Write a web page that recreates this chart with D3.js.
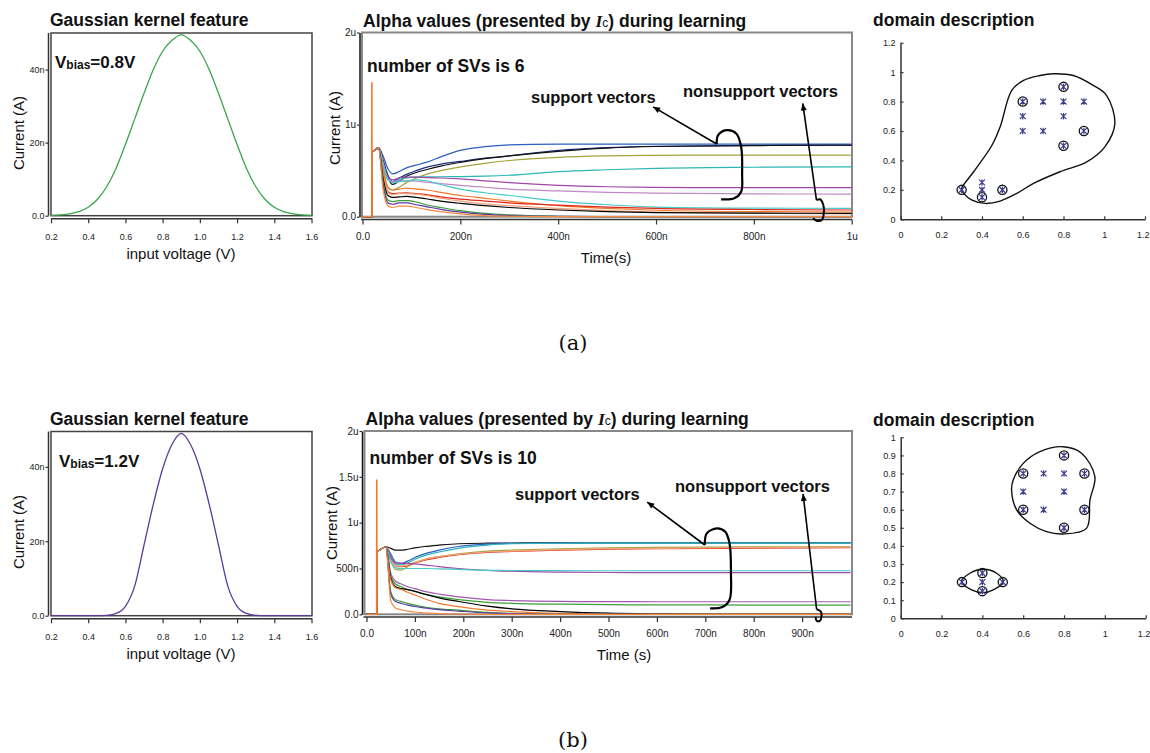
<!DOCTYPE html>
<html>
<head>
<meta charset="utf-8">
<script src="https://cdnjs.cloudflare.com/ajax/libs/d3/7.8.5/d3.min.js"></script>
<style>
    body{margin:0;background:#fff;}
    text{font-family:"Liberation Sans",Arial,sans-serif;fill:#111;}
    .ttl{font-weight:bold;font-size:17.5px;}
    .note{font-weight:bold;font-size:16.5px;}
    .atitle{font-size:15px;}
</style>
</head>
<body>
<script>
var W=1150,H=753;
var svg=d3.select('body').append('svg').attr('width',W).attr('height',H);

// ---- kernel curves (input voltage V, current nA)
var kernelVolt=[0.2,0.25,0.3,0.35,0.4,0.45,0.5,0.55,0.6,0.65,0.7,0.75,0.8,0.85,0.9,
                0.95,1.0,1.05,1.1,1.15,1.2,1.25,1.3,1.35,1.4,1.45,1.5,1.55,1.6];
var kernelCurA=[0.1,0.2,0.5,1.1,2.3,4.5,8,13,19.5,26.5,33.5,40,45,48,49.5,
                48,45,40,33.5,26.5,19.5,13,8,4.5,2.3,1.1,0.5,0.2,0.1];
var kernelCurB=[0,0,0,0,0,0,0.1,0.6,2.5,8,19,30,39.5,46,49,
                46,39.5,30,19,8,2.5,0.6,0.1,0,0,0,0,0,0];
var kernelXTicks=[0.2,0.4,0.6,0.8,1.0,1.2,1.4,1.6];
var kernelYTicks=[0,20,40];

// ---- alpha values during learning (time ns, current uA)
var alphaTimeA=[0,19,20,24,33,42,52,62,75,90,110,130,160,200,250,300,400,500,600,800,1000];
var alphaSeriesA=[
    [0,0,0.70,0.72,0.75,0.66,0.52,0.465,0.49,0.53,0.56,0.59,0.65,0.72,0.76,0.78,0.788,0.789,0.789,0.789,0.789],
    [0,0,0.70,0.72,0.75,0.62,0.45,0.38,0.42,0.46,0.50,0.535,0.57,0.60,0.635,0.66,0.72,0.75,0.765,0.775,0.778],
    [0,0,0.70,0.72,0.75,0.60,0.42,0.35,0.39,0.44,0.48,0.51,0.55,0.59,0.63,0.66,0.71,0.745,0.762,0.772,0.776],
    [0,0,0.70,0.72,0.75,0.55,0.31,0.29,0.32,0.37,0.42,0.46,0.50,0.54,0.58,0.61,0.645,0.66,0.666,0.669,0.669],
    [0,0,0.70,0.72,0.75,0.58,0.40,0.38,0.40,0.42,0.43,0.432,0.434,0.435,0.44,0.45,0.49,0.51,0.525,0.537,0.542],
    [0,0,0.70,0.72,0.75,0.60,0.43,0.40,0.42,0.43,0.43,0.425,0.42,0.41,0.39,0.37,0.34,0.325,0.318,0.315,0.315],
    [0,0,0.70,0.72,0.75,0.58,0.41,0.38,0.39,0.39,0.385,0.375,0.36,0.34,0.32,0.30,0.28,0.265,0.255,0.248,0.246],
    [0,0,0.70,0.72,0.75,0.58,0.40,0.37,0.38,0.39,0.40,0.39,0.35,0.30,0.26,0.23,0.17,0.13,0.105,0.093,0.091],
    [0,0,0.70,0.72,0.75,0.50,0.32,0.29,0.30,0.31,0.30,0.29,0.265,0.23,0.20,0.17,0.12,0.09,0.07,0.055,0.051],
    [0,0,0.70,0.72,0.74,0.45,0.27,0.25,0.255,0.26,0.25,0.24,0.215,0.19,0.17,0.15,0.125,0.105,0.09,0.078,0.073],
    [0,0,0.70,0.72,0.74,0.45,0.26,0.24,0.25,0.25,0.245,0.23,0.20,0.17,0.14,0.12,0.09,0.065,0.05,0.035,0.030],
    [0,0,0.70,0.72,0.74,0.42,0.23,0.21,0.215,0.22,0.21,0.195,0.17,0.145,0.12,0.10,0.073,0.055,0.045,0.039,0.037],
    [0,0,0.70,0.72,0.74,0.38,0.18,0.165,0.175,0.175,0.16,0.13,0.10,0.065,0.036,0.02,0.005,0,0,0,0],
    [0,0,0.70,0.72,0.74,0.35,0.15,0.135,0.15,0.15,0.13,0.11,0.08,0.05,0.025,0.012,0.003,0,0,0,0],
    [0,0,0.70,0.72,0.74,0.30,0.12,0.10,0.115,0.115,0.10,0.08,0.055,0.03,0.012,0.005,0,0,0,0,0]
];
var alphaColorsA=['#2b5fc0','#1c2f80','#111111','#a5a23a','#2ab7b5','#a048a8','#c08ac6','#45c8c8',
                  '#f07a2a','#e0281e','#f5a47a','#000000','#3a9a3a','#5a3aa0','#f58a40'];
var spikeTimeA=[19,19.2,19.4], spikeValA=[0,1.46,0];

var alphaTimeB=[0,21,22,27,40,50,60,72,85,100,120,150,190,250,300,400,500,600,800,1000];
var alphaSeriesB=[
    [0,0,0.68,0.70,0.737,0.72,0.70,0.70,0.71,0.725,0.74,0.755,0.77,0.776,0.778,0.78,0.78,0.78,0.78,0.78],
    [0,0,0.68,0.70,0.737,0.66,0.57,0.556,0.58,0.62,0.66,0.70,0.74,0.765,0.775,0.78,0.78,0.78,0.78,0.78],
    [0,0,0.68,0.70,0.737,0.64,0.55,0.54,0.56,0.60,0.64,0.68,0.72,0.755,0.77,0.775,0.776,0.776,0.776,0.776],
    [0,0,0.68,0.70,0.737,0.62,0.53,0.52,0.53,0.56,0.59,0.62,0.65,0.675,0.685,0.70,0.71,0.715,0.722,0.726],
    [0,0,0.68,0.70,0.737,0.58,0.49,0.483,0.52,0.56,0.60,0.63,0.66,0.69,0.70,0.715,0.725,0.73,0.735,0.738],
    [0,0,0.68,0.70,0.737,0.61,0.53,0.525,0.54,0.57,0.60,0.63,0.655,0.68,0.69,0.705,0.715,0.72,0.728,0.732],
    [0,0,0.68,0.70,0.737,0.62,0.56,0.556,0.555,0.55,0.54,0.52,0.50,0.48,0.47,0.46,0.456,0.455,0.454,0.454],
    [0,0,0.68,0.70,0.737,0.58,0.51,0.50,0.50,0.50,0.50,0.495,0.49,0.48,0.478,0.476,0.475,0.475,0.475,0.475],
    [0,0,0.68,0.70,0.737,0.45,0.36,0.33,0.30,0.28,0.25,0.22,0.19,0.16,0.15,0.14,0.138,0.137,0.137,0.137],
    [0,0,0.68,0.70,0.737,0.42,0.33,0.30,0.27,0.25,0.22,0.19,0.16,0.13,0.12,0.11,0.105,0.103,0.101,0.10],
    [0,0,0.68,0.70,0.737,0.40,0.30,0.28,0.27,0.25,0.22,0.18,0.14,0.09,0.06,0.03,0.012,0.005,0,0],
    [0,0,0.68,0.70,0.737,0.38,0.29,0.27,0.24,0.21,0.17,0.12,0.083,0.045,0.03,0.01,0,0,0,0],
    [0,0,0.68,0.70,0.737,0.25,0.16,0.14,0.12,0.10,0.08,0.06,0.045,0.02,0.01,0,0,0,0,0],
    [0,0,0.68,0.70,0.737,0.22,0.14,0.12,0.10,0.085,0.07,0.05,0.035,0.015,0.007,0,0,0,0,0],
    [0,0,0.68,0.70,0.737,0.15,0.07,0.05,0.035,0.025,0.015,0.008,0.003,0,0,0,0,0,0,0]
];
var alphaColorsB=['#111111','#2b5fc0','#2ab7b5','#e0281e','#a5a23a','#f5a47a','#a048a8','#45c8c8',
                  '#a058b0','#3aa03a','#000000','#f07a2a','#3a9a3a','#5a3aa0','#f58a40'];
var spikeTimeB=[21,21.2,21.4], spikeValB=[0,1.47,0];

var alphaXTicksA=[0,200,400,600,800,1000], alphaXLabelsA=['0.0','200n','400n','600n','800n','1u'];
var alphaYTicksA=[0,1,2], alphaYLabelsA=['0.0','1u','2u'];
var alphaXTicksB=[0,100,200,300,400,500,600,700,800,900];
var alphaXLabelsB=['0.0','100n','200n','300n','400n','500n','600n','700n','800n','900n'];
var alphaYTicksB=[0,0.5,1,1.5,2], alphaYLabelsB=['0.0','500n','1u','1.5u','2u'];

// annotation anchors, in (ns, uA)
var svLoopA=[[724,0.789],[727,0.886],[744,0.94],[764,0.904],[774,0.759],[776,0.47],[774,0.271],[760,0.2],[733,0.189]];
var svTipA=[594,1.193];
var nsvLoopA=[[928,0.18],[935,0.189],[942,0.127],[943,0.036],[939,-0.036],[928,-0.043],[921,-0.017]];
var nsvTipA=[900,1.23];
var svLoopB=[[699,0.756],[703,0.883],[724,0.938],[741,0.902],[750,0.775],[753,0.447],[750,0.156],[734,0.076],[710,0.065]];
var svTipB=[580,1.225];
var nsvLoopB=[[930,0.055],[939,0.028],[940,-0.026],[937,-0.07],[930,-0.07],[928,-0.026]];
var nsvTipB=[902,1.313];

// ---- domain description (x, y)
var dataPts=[[0.3,0.2],[0.4,0.25],[0.4,0.2],[0.4,0.15],[0.5,0.2],[0.6,0.8],[0.6,0.7],[0.6,0.6],
             [0.7,0.8],[0.7,0.6],[0.8,0.9],[0.8,0.8],[0.8,0.7],[0.8,0.5],[0.9,0.8],[0.9,0.6]];
var svPtsA=[[0.3,0.2],[0.4,0.15],[0.5,0.2],[0.6,0.8],[0.8,0.9],[0.9,0.6],[0.8,0.5]];
var svPtsB=[[0.3,0.2],[0.4,0.25],[0.4,0.15],[0.5,0.2],[0.6,0.8],[0.6,0.6],[0.8,0.9],[0.9,0.8],[0.9,0.6],[0.8,0.5]];
var boundA=[[0.30,0.205],[0.359,0.323],[0.449,0.503],[0.489,0.628],[0.546,0.876],[0.604,0.944],[0.685,0.977],
            [0.75,0.989],[0.848,0.977],[0.946,0.91],[1.011,0.842],[1.052,0.65],[1.003,0.492],[0.914,0.39],
            [0.783,0.323],[0.653,0.244],[0.571,0.176],[0.489,0.124],[0.416,0.108],[0.351,0.131],[0.31,0.176]];
var boundB1=[[0.796,0.948],[0.886,0.912],[0.951,0.783],[0.927,0.654],[0.91,0.497],[0.796,0.466],[0.714,0.479],
             [0.633,0.525],[0.568,0.599],[0.543,0.709],[0.551,0.764],[0.60,0.856],[0.682,0.921]];
var boundB2=[[0.299,0.203],[0.339,0.249],[0.405,0.271],[0.47,0.249],[0.502,0.203],[0.453,0.157],[0.405,0.142],[0.347,0.157]];
var domXTicks=[0,0.2,0.4,0.6,0.8,1,1.2];
var domYTicksA=[0,0.2,0.4,0.6,0.8,1,1.2];
var domYTicksB=[0,0.1,0.2,0.3,0.4,0.5,0.6,0.7,0.8,0.9,1];

function styleAxis(g,size){
    g.attr('font-family','"Liberation Sans",Arial,sans-serif').attr('font-size',size);
    g.select('.domain').attr('stroke','#333').attr('stroke-width',1.5);
    g.selectAll('.tick line').attr('stroke','#333').attr('stroke-width',1.2);
    g.selectAll('.tick text').style('fill','#222');
}

//draw kernel panel
function drawKernel(o){
    var g=svg.append('g');
    var x=d3.scaleLinear().domain([0.2,1.6]).range([51,311.5]);
    var y=d3.scaleLinear().domain([0,o.yMax]).range([o.base,o.top]);
    g.append('rect').attr('x',51).attr('y',o.top).attr('width',261).attr('height',o.base-o.top)
        .attr('fill','none').attr('stroke','#444').attr('stroke-width',1.5);
    var line=d3.line().x(function(d,i){return x(kernelVolt[i]);}).y(function(d){return y(d);}).curve(d3.curveMonotoneX);
    g.append('path').datum(o.vals).attr('d',line).attr('fill','none').attr('stroke',o.color).attr('stroke-width',1.3);

    var xa=g.append('g').attr('transform','translate(0,'+(o.base+2.6)+')')
        .call(d3.axisBottom(x).tickValues(kernelXTicks).tickFormat(d3.format('.1f')).tickSize(5).tickSizeOuter(0).tickPadding(10));
    styleAxis(xa,9);
    var ya=g.append('g').attr('transform','translate(48.5,0)')
        .call(d3.axisLeft(y).tickValues(kernelYTicks).tickFormat(function(d){return d==0?'0.0':d+'n';}).tickSize(3).tickSizeOuter(0).tickPadding(1));
    styleAxis(ya,9);
    ya.select('.domain').attr('d','M0,'+o.top+'V'+o.base);

    g.append('text').attr('class','ttl').attr('x',50).attr('y',o.top-7).text('Gaussian kernel feature');
    var vb=g.append('text').attr('x',o.vbX).attr('y',o.vbY).attr('font-weight','bold').attr('font-size',17);
    vb.append('tspan').text('V');
    vb.append('tspan').attr('font-size',12).attr('dy',1).text('bias');
    vb.append('tspan').attr('dy',-1).text('='+o.bias);
    g.append('text').attr('class','atitle').attr('text-anchor','middle').attr('x',181).attr('y',o.base+43).text('input voltage (V)');
    g.append('text').attr('class','atitle').attr('text-anchor','middle')
        .attr('transform','translate(24,'+o.ylabY+') rotate(-90)').text('Current (A)');
}

function arrowTo(g,p0,p1){
    g.append('line').attr('x1',p0[0]).attr('y1',p0[1]).attr('x2',p1[0]).attr('y2',p1[1])
        .attr('stroke','#000').attr('stroke-width',1.6);
    var a=Math.atan2(p1[1]-p0[1],p1[0]-p0[0])*180/Math.PI;
    g.append('path').attr('d','M0,0L-7,-3L-7,3Z').attr('fill','#000')
        .attr('transform','translate('+p1[0]+','+p1[1]+') rotate('+a+')');
}

//draw alpha panel
function drawAlpha(o){
    var g=svg.append('g');
    var x=d3.scaleLinear().domain([0,1000]).range(o.xr);
    var y=d3.scaleLinear().domain([0,2]).range([o.base,o.top]);
    g.append('rect').attr('x',o.fx).attr('y',o.top).attr('width',852-o.fx).attr('height',o.base-o.top)
        .attr('fill','none').attr('stroke','#888').attr('stroke-width',2);

    var line=d3.line().x(function(d,i){return x(o.time[i]);}).y(function(d){return y(d);}).curve(d3.curveMonotoneX);
    g.selectAll('path.alpha').data(o.series).enter().append('path').attr('class','alpha')
        .attr('d',line).attr('fill','none').attr('stroke-width',1.2)
        .attr('stroke',function(d,i){return o.colors[i];});
    var sline=d3.line().x(function(d,i){return x(o.spikeT[i]);}).y(function(d){return y(d);});
    g.append('path').datum(o.spikeV).attr('d',sline).attr('fill','none').attr('stroke','#f07a2a').attr('stroke-width',1.6);

    var xa=g.append('g').attr('transform','translate(0,'+(o.base+2.8)+')')
        .call(d3.axisBottom(x).tickValues(o.xt).tickFormat(function(d,i){return o.xl[i];}).tickSize(5).tickSizeOuter(0).tickPadding(8));
    styleAxis(xa,10);
    xa.select('.domain').attr('d','M'+(o.fx-1)+',0H852');
    var ya=g.append('g').attr('transform','translate('+(o.fx-2.5)+',0)')
        .call(d3.axisLeft(y).tickValues(o.yt).tickFormat(function(d,i){return o.yl[i];}).tickSize(2.5).tickSizeOuter(0).tickPadding(1));
    styleAxis(ya,10);
    ya.select('.domain').attr('stroke','#111');

    var t=g.append('text').attr('class','ttl').attr('x',o.fx+1).attr('y',o.top-6);
    t.append('tspan').text('Alpha values (presented by ');
    t.append('tspan').attr('font-family','"Liberation Serif",serif').attr('font-style','italic').text('I');
    t.append('tspan').attr('font-size',12).attr('font-weight','normal').text('c');
    t.append('tspan').text(') during learning');
    g.append('text').attr('class','ttl').attr('x',o.fx+5).attr('y',o.nsY).text(o.nsText);
    g.append('text').attr('class','note').attr('x',o.svX).attr('y',o.svY).text('support vectors');
    g.append('text').attr('class','note').attr('x',o.nsvX).attr('y',o.nsvY).text('nonsupport vectors');
    g.append('text').attr('class','atitle').attr('text-anchor','middle').attr('x',o.txX).attr('y',o.base+46).text(o.timeText);
    g.append('text').attr('class','atitle').attr('text-anchor','middle')
        .attr('transform','translate('+o.ylabX+','+o.ylabY+') rotate(-90)').text('Current (A)');

    // annotations
    var px=function(p){return [x(p[0]),y(p[1])];};
    var loop=d3.line().x(function(d){return x(d[0]);}).y(function(d){return y(d[1]);}).curve(d3.curveCatmullRom);
    g.append('path').datum(o.svLoop).attr('d',loop).attr('fill','none').attr('stroke','#000').attr('stroke-width',2.2);
    g.append('path').datum(o.nsvLoop).attr('d',loop).attr('fill','none').attr('stroke','#000').attr('stroke-width',2);
    arrowTo(g,px(o.svLoop[0]),px(o.svTip));
    arrowTo(g,px(o.nsvLoop[0]),px(o.nsvTip));
}

var starSym={draw:function(ctx,size){
    var r=Math.sqrt(size)/2;
    ctx.moveTo(-r,-r);ctx.lineTo(r,r);
    ctx.moveTo(-r,r);ctx.lineTo(r,-r);
    ctx.moveTo(0,-r*1.1);ctx.lineTo(0,r*1.1);
}};

//draw domain panel
function drawDomain(o){
    var g=svg.append('g');
    var x=d3.scaleLinear().domain([0,1.2]).range(o.xr);
    var y=d3.scaleLinear().domain([0,o.yMax]).range([o.base,o.top]);
    var xa=g.append('g').attr('transform','translate(0,'+o.base+')')
        .call(d3.axisBottom(x).tickValues(domXTicks).tickFormat(d3.format('~g')).tickSize(-3).tickSizeOuter(0).tickPadding(12));
    styleAxis(xa,9);
    // keep the last label inside the page edge
    xa.selectAll('.tick text').filter(function(d){return d==1.2;}).attr('text-anchor','end').attr('x',4);
    var ya=g.append('g').attr('transform','translate('+o.xr[0]+',0)')
        .call(d3.axisLeft(y).tickValues(o.yt).tickFormat(d3.format('~g')).tickSize(-3).tickSizeOuter(0).tickPadding(5));
    styleAxis(ya,9);

    var closed=d3.line().x(function(d){return x(d[0]);}).y(function(d){return y(d[1]);}).curve(d3.curveCatmullRomClosed.alpha(0.5));
    g.selectAll('path.bound').data(o.bounds).enter().append('path').attr('class','bound')
        .attr('d',closed).attr('fill','none').attr('stroke','#111').attr('stroke-width',1.4);
    g.selectAll('circle.sv').data(o.sv).enter().append('circle').attr('class','sv')
        .attr('cx',function(d){return x(d[0]);}).attr('cy',function(d){return y(d[1]);}).attr('r',4.6)
        .attr('fill','none').attr('stroke','#111').attr('stroke-width',1.3);
    g.selectAll('path.pt').data(dataPts).enter().append('path').attr('class','pt')
        .attr('d',d3.symbol().type(starSym).size(34))
        .attr('transform',function(d){return 'translate('+x(d[0])+','+y(d[1])+')';})
        .attr('fill','none').attr('stroke','#3c3c8c').attr('stroke-width',1.2);
    g.append('text').attr('class','ttl').attr('x',873).attr('y',o.titleY).text('domain description');
}

drawKernel({base:215.7,top:33,yMax:50,vals:kernelCurA,color:'#3aa54a',bias:'0.8V',vbX:55,vbY:68,ylabY:133});
drawKernel({base:615.7,top:431.5,yMax:49.5,vals:kernelCurB,color:'#5b3a9a',bias:'1.2V',vbX:59,vbY:467,ylabY:532});

drawAlpha({base:216.7,top:32.5,fx:362,xr:[362.5,851.7],time:alphaTimeA,series:alphaSeriesA,colors:alphaColorsA,
    spikeT:spikeTimeA,spikeV:spikeValA,xt:alphaXTicksA,xl:alphaXLabelsA,yt:alphaYTicksA,yl:alphaYLabelsA,
    nsText:'number of SVs is 6',nsY:72,svX:531,svY:103,nsvX:683,nsvY:97,timeText:'Time(s)',txX:606,
    ylabX:340,ylabY:128,svLoop:svLoopA,svTip:svTipA,nsvLoop:nsvLoopA,nsvTip:nsvTipA});
drawAlpha({base:614.3,top:431,fx:364.5,xr:[366.5,850.5],time:alphaTimeB,series:alphaSeriesB,colors:alphaColorsB,
    spikeT:spikeTimeB,spikeV:spikeValB,xt:alphaXTicksB,xl:alphaXLabelsB,yt:alphaYTicksB,yl:alphaYLabelsB,
    nsText:'number of SVs is 10',nsY:464,svX:515,svY:500,nsvX:675,nsvY:492,timeText:'Time (s)',txX:624,
    ylabX:337,ylabY:523,svLoop:svLoopB,svTip:svTipB,nsvLoop:nsvLoopB,nsvTip:nsvTipB});

drawDomain({xr:[900.5,1145],base:219.3,top:42.7,yMax:1.2,yt:domYTicksA,bounds:[boundA],sv:svPtsA,titleY:26});
drawDomain({xr:[900.7,1145.7],base:618.3,top:437.3,yMax:1,yt:domYTicksB,bounds:[boundB1,boundB2],sv:svPtsB,titleY:426});

svg.append('text').attr('x',573).attr('y',350).attr('text-anchor','middle')
    .style('font-family','"DejaVu Serif",serif').attr('font-size',21).text('(a)');
svg.append('text').attr('x',573).attr('y',747).attr('text-anchor','middle')
    .style('font-family','"DejaVu Serif",serif').attr('font-size',21).text('(b)');
</script>
</body>
</html>
